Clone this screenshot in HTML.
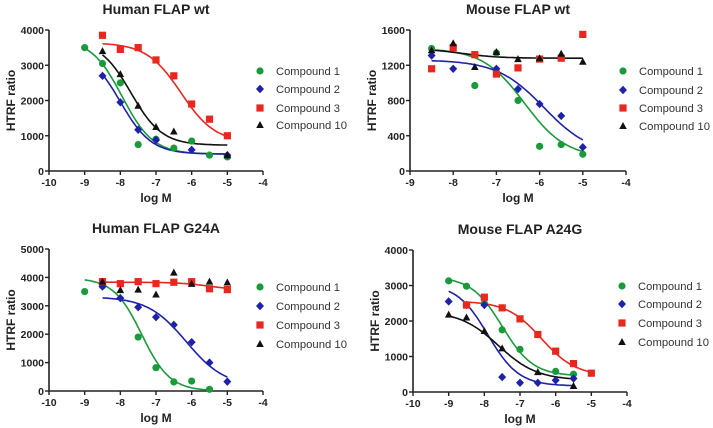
<!DOCTYPE html>
<html><head><meta charset="utf-8"><style>
html,body{margin:0;padding:0;background:#fff;}
svg{display:block;font-family:"Liberation Sans",Arial,sans-serif;}
</style></head><body>
<svg id="fig" width="713" height="428" viewBox="0 0 713 428" xmlns="http://www.w3.org/2000/svg"></svg>
<script>
// ---- data ----
const seriesNames = ["Compound 1","Compound 2","Compound 3","Compound 10"];
const seriesColors = ["#1b9a3c","#1e22a6","#e8271f","#111111"];
const panelTitles = ["Human FLAP wt","Mouse FLAP wt","Human FLAP G24A","Mouse FLAP A24G"];
const xTicksP1 = [-10,-9,-8,-7,-6,-5,-4];
const xTicksP2 = [-9,-8,-7,-6,-5,-4];
const yTicksP1 = [0,1000,2000,3000,4000];
const yTicksP2 = [0,400,800,1200,1600];
const yTicksP3 = [0,1000,2000,3000,4000,5000];
const yTicksP4 = [0,1000,2000,3000,4000];
// points [logM, value]
const p1c1 = [[-9,3500],[-8.5,3050],[-8,2500],[-7.5,750],[-7,900],[-6.5,650],[-6,850],[-5.5,450],[-5,400]];
const p1c2 = [[-8.5,2700],[-8,1950],[-7.5,1170],[-7,880],[-6,600],[-5,450]];
const p1c3 = [[-8.5,3850],[-8,3450],[-7.5,3500],[-7,3150],[-6.5,2700],[-6,1900],[-5.5,1470],[-5,1000]];
const p1c10 = [[-8.5,3400],[-8,2750],[-7.5,1850],[-7,1250],[-6.5,1120],[-5,450]];
const p2c1 = [[-8.5,1390],[-7.5,970],[-7,1340],[-6.5,800],[-6,280],[-5.5,300],[-5,190]];
const p2c2 = [[-8.5,1310],[-8,1160],[-7,1160],[-6.5,930],[-6,760],[-5.5,625],[-5,270]];
const p2c3 = [[-8.5,1160],[-8,1400],[-7.5,1320],[-7,1100],[-6.5,1170],[-6,1270],[-5.5,1280],[-5,1550]];
const p2c10 = [[-8.5,1370],[-8,1450],[-7.5,1180],[-7,1350],[-6.5,1270],[-6,1280],[-5.5,1330],[-5,1240]];
const p3c1 = [[-9,3500],[-8.5,3700],[-7.5,1900],[-7,820],[-6.5,320],[-6,350],[-5.5,60]];
const p3c2 = [[-8.5,3680],[-8,3270],[-7.5,2950],[-7,2600],[-6.5,2330],[-6,1720],[-5.5,1000],[-5,330]];
const p3c3 = [[-8.5,3850],[-8,3780],[-7.5,3850],[-7,3780],[-6.5,3830],[-6,3850],[-5.5,3600],[-5,3570]];
const p3c10 = [[-8.5,3850],[-8,3550],[-7.5,3570],[-7,3400],[-6.5,4170],[-6,3770],[-5.5,3850],[-5,3820]];
const p4c1 = [[-9,3130],[-8.5,2980],[-8,2500],[-7.5,1750],[-7,1200],[-6,580],[-5.5,500]];
const p4c2 = [[-9,2550],[-8.5,2450],[-8,2450],[-7.5,420],[-7,260],[-6.5,260],[-6,330],[-5.5,380]];
const p4c3 = [[-8.5,2450],[-8,2670],[-7.5,2370],[-7,2060],[-6.5,1620],[-6,1150],[-5.5,800],[-5,530]];
const p4c10 = [[-9,2180],[-8.5,2100],[-8,1720],[-7.5,1230],[-6.5,560],[-5.5,170]];
// fit params [top, bottom, logIC50, hill, xStart, xEnd] (null = no curve)
const p1fits = [[3750,480,-7.95,1,-9,-5],[3450,480,-8.0,1,-8.5,-5],[3640,800,-6.3,0.9,-8.5,-5],[3700,730,-7.7,1,-8.5,-5]];
const p2fits = [[1390,150,-6.35,0.9,-8.5,-5],[1260,180,-5.9,0.8,-8.5,-5],null,[1390,1280,-7.8,1,-8.5,-5]];
const p3fits = [[3980,0,-7.4,1.1,-9,-5.5],[3320,150,-6.15,0.8,-8.5,-5],[3830,3550,-5.5,1,-8.5,-5],null];
const p4fits = [[3250,450,-7.5,1,-9,-5.5],[3050,170,-7.9,1,-9,-5.5],[2560,450,-6.4,0.9,-8.5,-5],[2280,330,-7.6,0.8,-9,-5.5]];

const panels = [
 {title:panelTitles[0],xmin:-10,xmax:-4,xt:xTicksP1,yt:yTicksP1,ymax:4000,ax:49,ar:263,at:30,ab:171,ty:14,lgx:260,lgy:[71,89,108,125],pts:[p1c1,p1c2,p1c3,p1c10],fits:p1fits},
 {title:panelTitles[1],xmin:-9,xmax:-4,xt:xTicksP2,yt:yTicksP2,ymax:1600,ax:410,ar:626,at:30,ab:171,ty:14,lgx:623,lgy:[71,90,108,126],pts:[p2c1,p2c2,p2c3,p2c10],fits:p2fits},
 {title:panelTitles[2],xmin:-10,xmax:-4,xt:xTicksP1,yt:yTicksP3,ymax:5000,ax:49,ar:263,at:249,ab:391,ty:233,lgx:260,lgy:[287,306,325,344],pts:[p3c1,p3c2,p3c3,p3c10],fits:p3fits},
 {title:panelTitles[3],xmin:-10,xmax:-4,xt:xTicksP1,yt:yTicksP4,ymax:4000,ax:413,ar:627,at:250,ab:392,ty:234,lgx:622,lgy:[286,304,323,342],pts:[p4c1,p4c2,p4c3,p4c10],fits:p4fits}
];
const NS="http://www.w3.org/2000/svg";
const svg=document.getElementById('fig');
function mk(tag,attrs,parent,txt){const e=document.createElementNS(NS,tag);for(const k in attrs)e.setAttribute(k,attrs[k]);if(txt!==undefined)e.textContent=txt;(parent||svg).appendChild(e);return e;}
function marker(g,i,x,y,c){
  if(i===0)return mk('circle',{cx:x,cy:y,r:3.6,fill:c},g);
  if(i===1)return mk('polygon',{points:`${x},${y-4.2} ${x+4},${y} ${x},${y+4.2} ${x-4},${y}`,fill:c},g);
  if(i===2)return mk('rect',{x:x-3.6,y:y-3.6,width:7.2,height:7.2,fill:c},g);
  return mk('polygon',{points:`${x},${y-4} ${x+3.8},${y+3} ${x-3.8},${y+3}`,fill:c},g);
}
panels.forEach((p,pi)=>{
  const g=mk('g',{});
  
  
  const sx=v=>p.ax+(v-p.xmin)/(p.xmax-p.xmin)*(p.ar-p.ax);
  const sy=v=>p.ab-v/p.ymax*(p.ab-p.at);
  const t=mk('text',{x:(p.ax+p.ar)/2,y:p.ty,'text-anchor':'middle','font-size':14,'font-weight':'bold',fill:'#222'},g,p.title);
  
  
  const ax=mk('path',{d:`M${p.ax},${p.at} V${p.ab} H${p.ar}`,stroke:'#222','stroke-width':1.6,fill:'none'},g);
  
  
  p.yt.forEach(v=>{const y=sy(v);mk('line',{x1:p.ax-4,x2:p.ax,y1:y,y2:y,stroke:'#222','stroke-width':1.4},g);
    const l=mk('text',{x:p.ax-5,y:y+4,'text-anchor':'end','font-size':10.5,'font-weight':'bold',fill:'#222'},g,v);
    
    });
  p.xt.forEach(v=>{const x=sx(v);mk('line',{x1:x,x2:x,y1:p.ab,y2:p.ab+4,stroke:'#222','stroke-width':1.4},g);
    const l=mk('text',{x:x,y:p.ab+15,'text-anchor':'middle','font-size':10.5,'font-weight':'bold',fill:'#222'},g,v);
    
    });
  const xl=mk('text',{x:(p.ax+p.ar)/2,y:p.ab+31,'text-anchor':'middle','font-size':12,'font-weight':'bold',fill:'#222'},g,'log M');
  
  
  const yl=mk('text',{x:0,y:0,transform:`translate(${p.ax-34},${(p.at+p.ab)/2}) rotate(-90)`,'text-anchor':'middle','font-size':12,'font-weight':'bold',fill:'#222'},g,'HTRF ratio');
  
  
  p.fits.forEach((f,si)=>{ if(!f)return;
    let d='';for(let k=0;k<=80;k++){const x=f[4]+(f[5]-f[4])*k/80;const v=f[1]+(f[0]-f[1])/(1+Math.pow(10,(x-f[2])*f[3]));d+=(k?'L':'M')+sx(x).toFixed(1)+','+sy(v).toFixed(1);}
    const c=mk('path',{d:d,stroke:seriesColors[si],'stroke-width':1.6,fill:'none'},g);
    
    });
  p.pts.forEach((arr,si)=>arr.forEach(pt=>{
    const m=marker(g,si,sx(pt[0]),sy(pt[1]),seriesColors[si]);
    
    }));
  seriesNames.forEach((n,si)=>{const y=p.lgy[si];
    const lg=mk('g',{},g);
    
    
    marker(lg,si,p.lgx,y,seriesColors[si]);
    mk('text',{x:p.lgx+16,y:y+4,'font-size':11.3,fill:'#333',textLength:71,lengthAdjust:'spacingAndGlyphs'},lg,n).setAttribute('textLength', n.length>10?71:64);});
});
</script>
</body></html>
